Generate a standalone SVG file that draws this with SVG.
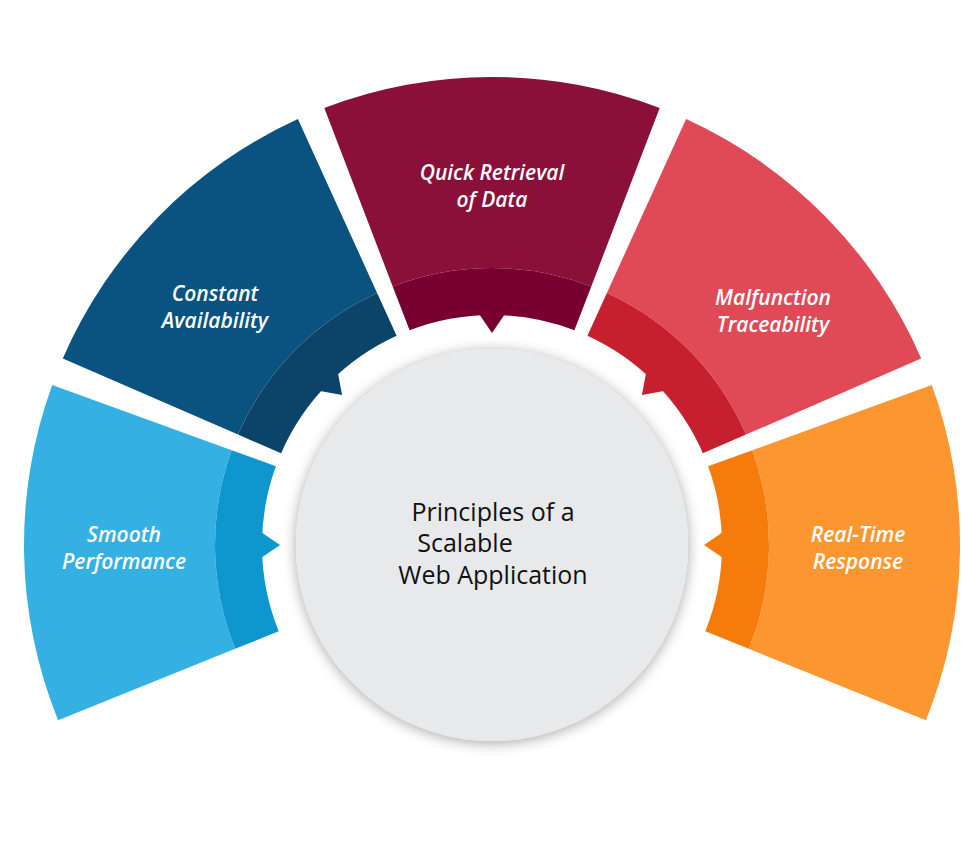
<svg xmlns="http://www.w3.org/2000/svg" width="980" height="844" viewBox="0 0 980 844">
<defs>
<filter id="sh" x="-20%" y="-20%" width="140%" height="140%"><feGaussianBlur in="SourceAlpha" stdDeviation="7"/><feOffset dy="2"/><feComponentTransfer><feFuncA type="linear" slope="0.35"/></feComponentTransfer><feMerge><feMergeNode/><feMergeNode in="SourceGraphic"/></feMerge></filter>
<polygon id="tri" points="280,545 258,530 258,560"/>
</defs>
<style>
.lb{font-family:"Open Sans","Liberation Sans",sans-serif;font-style:italic;font-weight:600;font-size:21px;fill:#fff;text-anchor:middle}
.ct{font-family:"Open Sans","Liberation Sans",sans-serif;font-weight:500;font-size:25px;fill:#111;text-anchor:middle}
</style>
<rect width="980" height="844" fill="#fff"/>
<g id="smooth">
<path d="M52.2,384.9 A468,468 0 0 0 58.1,720.3 L235.2,648.8 A277,277 0 0 1 231.7,450.3 Z" fill="#35B0E2"/>
<path d="M231.7,450.3 A277,277 0 0 0 235.2,648.8 L278.7,631.2 A230,230 0 0 1 275.9,466.3 Z" fill="#0E96CF"/>
<use href="#tri" fill="#0E96CF"/>
<text class="lb" x="124" y="542">Smooth</text><text class="lb" x="124" y="569">Performance</text>
</g>
<g id="constant">
<path d="M297.9,119.1 A468,468 0 0 0 62.8,358.4 L238.0,434.6 A277,277 0 0 1 377.1,292.9 Z" fill="#0A5380"/>
<path d="M377.1,292.9 A277,277 0 0 0 238.0,434.6 L281.1,453.3 A230,230 0 0 1 396.6,335.7 Z" fill="#0B4468"/>
<use href="#tri" fill="#0B4468" transform="rotate(45 492 545)"/>
<text class="lb" x="215" y="301">Constant</text><text class="lb" x="215" y="328">Availability</text>
</g>
<g id="quick">
<path d="M659.7,108.1 A468,468 0 0 0 324.3,108.1 L392.7,286.4 A277,277 0 0 1 591.3,286.4 Z" fill="#8A1039"/>
<path d="M591.3,286.4 A277,277 0 0 0 392.7,286.4 L409.6,330.3 A230,230 0 0 1 574.4,330.3 Z" fill="#780030"/>
<use href="#tri" fill="#780030" transform="rotate(90 492 545)"/>
<text class="lb" x="492" y="180">Quick Retrieval</text><text class="lb" x="492" y="207">of Data</text>
</g>
<g id="malfunction">
<path d="M921.2,358.4 A468,468 0 0 0 686.1,119.1 L606.9,292.9 A277,277 0 0 1 746.0,434.6 Z" fill="#E04A57"/>
<path d="M746.0,434.6 A277,277 0 0 0 606.9,292.9 L587.4,335.7 A230,230 0 0 1 702.9,453.3 Z" fill="#C6202F"/>
<use href="#tri" fill="#C6202F" transform="rotate(135 492 545)"/>
<text class="lb" x="773" y="305">Malfunction</text><text class="lb" x="773" y="332">Traceability</text>
</g>
<g id="realtime">
<path d="M925.9,720.3 A468,468 0 0 0 931.8,384.9 L752.3,450.3 A277,277 0 0 1 748.8,648.8 Z" fill="#FB9630"/>
<path d="M748.8,648.8 A277,277 0 0 0 752.3,450.3 L708.1,466.3 A230,230 0 0 1 705.3,631.2 Z" fill="#F57C0A"/>
<use href="#tri" fill="#F57C0A" transform="rotate(180 492 545)"/>
<text class="lb" x="858" y="542">Real-Time</text><text class="lb" x="858" y="569">Response</text>
</g>
<g id="center">
<circle cx="492" cy="545" r="196" fill="#E8E9EB" filter="url(#sh)"/>
<text class="ct" x="493" y="521">Principles of a</text>
<text class="ct" x="465" y="552">Scalable</text>
<text class="ct" x="493" y="584">Web Application</text>
</g>
<g id="connectors"/>
</svg>
